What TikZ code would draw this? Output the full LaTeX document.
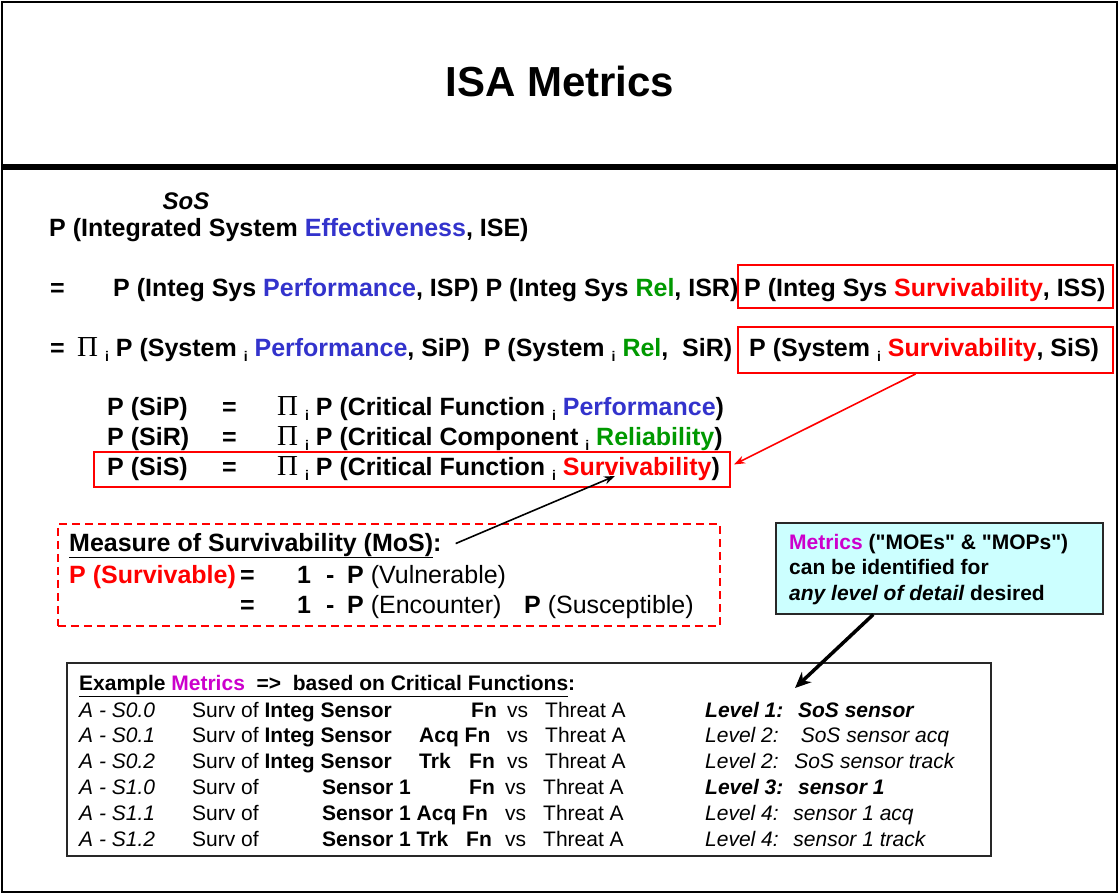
\documentclass[tikz,border=0pt]{standalone}
\usepackage{fontspec}
\setmainfont{Liberation Sans}[Ligatures=TeXOff]
\newfontfamily\pifont{Liberation Serif}
\usetikzlibrary{arrows.meta,calc}
\definecolor{cblue}{RGB}{51,51,204}
\definecolor{cgreen}{RGB}{0,153,0}
\definecolor{cred}{RGB}{255,0,0}
\definecolor{cmag}{RGB}{204,0,204}
\definecolor{ccyan}{RGB}{204,255,255}
\definecolor{cframe}{RGB}{40,40,40}
\newcommand\bodyfont{\fontsize{25}{30}\selectfont\bfseries}
\newcommand\tabfont{\fontsize{21}{25}\selectfont}
\newcommand\subi{\raisebox{-5.5pt}{\fontsize{14}{14}\selectfont i}}
\newcommand\bigpi{{\pifont\mdseries\fontsize{29}{30}\selectfont Π}}
\tikzset{
  txt/.style={anchor=base west, inner sep=0pt, font=\bodyfont},
  tbl/.style={anchor=base west, inner sep=0pt, font=\tabfont},
  tblb/.style={anchor=base west, inner sep=0pt, font=\tabfont\bfseries},
  tbli/.style={anchor=base west, inner sep=0pt, font=\tabfont\itshape},
  tblbi/.style={anchor=base west, inner sep=0pt, font=\tabfont\bfseries\itshape},
  callt/.style={anchor=base west, inner sep=0pt, font=\tabfont\bfseries},
  redbox/.style={draw=cred, line width=2pt, anchor=north west, inner sep=0pt},
  dashbox/.style={draw=cred, line width=1.8pt, dash pattern=on 8pt off 5pt, anchor=north west, inner sep=0pt},
  calloutbox/.style={draw=cframe, fill=ccyan, line width=1.5pt, anchor=north west, inner sep=0pt},
  tablebox/.style={draw=cframe, line width=1.5pt, anchor=north west, inner sep=0pt},
  redarrow/.style={draw=cred, line width=1.6pt, -{Stealth[length=11pt,width=8pt]}},
  blackarrow/.style={draw=black, line width=1.6pt, -{Stealth[length=11pt,width=8pt]}},
  thickarrow/.style={draw=black, line width=3.5pt, -{Stealth[length=16pt,width=14pt]}},
}
\begin{document}
\begin{tikzpicture}[x=1pt,y=-1pt]
\useasboundingbox (0,0) rectangle (1120,894);
% frames
\draw[line width=2.5pt] (2,2) rectangle (1117,166);
\draw[line width=2.5pt] (2,166) rectangle (1117,892);
\draw[line width=6pt] (2,166.5) -- (1117,166.5);
% title
\node[anchor=base, inner sep=0pt, font=\fontsize{42}{48}\selectfont\bfseries] (title) at (560,96) {ISA Metrics};
% line 1
\node[anchor=base, inner sep=0pt, font=\fontsize{24}{28}\selectfont\bfseries\itshape] (sos) at (186,209) {SoS};
\node[txt] (l1) at (49,236) {P (Integrated System \textcolor{cblue}{Effectiveness}, ISE)};
% line 2
\node[txt] (eq2) at (50,296) {=};
\node[txt] (l2) at (113,296) {P (Integ Sys \textcolor{cblue}{Performance}, ISP) P (Integ Sys \textcolor{cgreen}{Rel}, ISR)};
\node[redbox, minimum width=375pt, minimum height=43pt] (issbox) at (737,264) {};
\node[txt] (isstxt) at (744,296) {P (Integ Sys \textcolor{cred}{Survivability}, ISS)};
% line 3
\node[txt] (eq3) at (50,356) {=};
\node[txt] (l3) at (77,356) {\bigpi\ \subi\ P (System \subi\ \textcolor{cblue}{Performance}, SiP)\ \ P (System \subi\ \textcolor{cgreen}{Rel},\ \ SiR)};
\node[redbox, minimum width=375pt, minimum height=46pt] (sisbox) at (737,326) {};
\node[txt] (sistxt) at (749,356) {P (System \subi\ \textcolor{cred}{Survivability}, SiS)};
% block
\node[txt] (sip) at (107,415) {P (SiP)};
\node[txt] (eqa) at (222,415) {=};
\node[txt] (sipr) at (277,415) {\bigpi\ \subi\ P (Critical Function \subi\ \textcolor{cblue}{Performance})};
\node[txt] (sir) at (107,445) {P (SiR)};
\node[txt] (eqb) at (222,445) {=};
\node[txt] (sirr) at (277,445) {\bigpi\ \subi\ P (Critical Component \subi\ \textcolor{cgreen}{Reliability})};
\node[txt] (sis) at (107,475) {P (SiS)};
\node[txt] (eqc) at (222,475) {=};
\node[txt] (sisr) at (277,475) {\bigpi\ \subi\ P (Critical Function \subi\ \textcolor{cred}{Survivability})};
\node[redbox, minimum width=636pt, minimum height=35pt] (blockbox) at (93,451) {};
% MoS
\node[dashbox, minimum width=662pt, minimum height=102pt] (mosbox) at (57,523) {};
\node[txt] (mostitle) at (69,551) {\underline{Measure of Survivability (MoS)}:};
\node[txt, text=cred] (psurv) at (69,583) {P (Survivable)};
\node[txt] (eqm1) at (240,583) {=};
\node[txt] (one1) at (297,583) {1};
\node[txt] (min1) at (326,583) {-};
\node[txt] (pv) at (347,583) {P {\mdseries(Vulnerable)}};
\node[txt] (eqm2) at (240,613) {=};
\node[txt] (one2) at (297,613) {1};
\node[txt] (min2) at (326,613) {-};
\node[txt] (pe) at (347,613) {P {\mdseries(Encounter)}};
\node[txt] (ps) at (524,613) {P {\mdseries(Susceptible)}};
% callout
\node[calloutbox, minimum width=327pt, minimum height=91pt] (callout) at (775,522) {};
\node[callt] (c1) at (789,549) {\textcolor{cmag}{Metrics} ("MOEs" \& "MOPs")};
\node[callt] (c2) at (789,574) {can be identified for};
\node[callt] (c3) at (789,600) {{\itshape any level of detail} desired};
% table
\node[tablebox, minimum width=924pt, minimum height=193pt] (tablebox) at (66,662) {};
\node[tblb] (hdr) at (79,690) {\underline{Example \textcolor{cmag}{Metrics}\ \ =>\ \ based on Critical Functions}:};
% row 1
\node[tbli] (a1) at (79,717) {A - S0.0};
\node[tbl] (s1) at (192,717) {Surv of \textbf{Integ Sensor}};
\node[tblb] (f1) at (471,717) {Fn};
\node[tbl] (v1) at (507,717) {vs};
\node[tbl] (t1) at (545,717) {Threat A};
\node[tblbi] (lv1) at (705,717) {Level 1:\hspace{0.7em}SoS sensor};
% row 2
\node[tbli] (a2) at (79,742) {A - S0.1};
\node[tbl] (s2) at (192,742) {Surv of \textbf{Integ Sensor}};
\node[tblb] (f2) at (419,742) {Acq Fn};
\node[tbl] (v2) at (507,742) {vs};
\node[tbl] (t2) at (545,742) {Threat A};
\node[tbli] (lv2) at (705,742) {Level 2:\hspace{1.05em}SoS sensor acq};
% row 3
\node[tbli] (a3) at (79,768) {A - S0.2};
\node[tbl] (s3) at (192,768) {Surv of \textbf{Integ Sensor}};
\node[tblb] (k3) at (419,768) {Trk};
\node[tblb] (f3) at (469,768) {Fn};
\node[tbl] (v3) at (507,768) {vs};
\node[tbl] (t3) at (545,768) {Threat A};
\node[tbli] (lv3) at (705,768) {Level 2:\hspace{0.75em}SoS sensor track};
% row 4
\node[tbli] (a4) at (79,794) {A - S1.0};
\node[tbl] (s4) at (192,794) {Surv of};
\node[tblb] (n4) at (322,794) {Sensor 1};
\node[tblb] (f4) at (469,794) {Fn};
\node[tbl] (v4) at (505,794) {vs};
\node[tbl] (t4) at (543,794) {Threat A};
\node[tblbi] (lv4) at (705,794) {Level 3:\hspace{0.7em}sensor 1};
% row 5
\node[tbli] (a5) at (79,820) {A - S1.1};
\node[tbl] (s5) at (192,820) {Surv of};
\node[tblb] (n5) at (322,820) {Sensor 1 Acq Fn};
\node[tbl] (v5) at (505,820) {vs};
\node[tbl] (t5) at (543,820) {Threat A};
\node[tbli] (lv5) at (705,820) {Level 4:\hspace{0.7em}sensor 1 acq};
% row 6
\node[tbli] (a6) at (79,846) {A - S1.2};
\node[tbl] (s6) at (192,846) {Surv of};
\node[tblb] (n6) at (322,846) {Sensor 1 Trk};
\node[tblb] (f6) at (466,846) {Fn};
\node[tbl] (v6) at (505,846) {vs};
\node[tbl] (t6) at (543,846) {Threat A};
\node[tbli] (lv6) at (705,846) {Level 4:\hspace{0.7em}sensor 1 track};
% connectors
\coordinate (survtip) at (615,476);
\coordinate (lvltip) at (795,688);
\draw[redarrow] ($(sisbox.south)+(-10,0)$) -- ($(blockbox.east)+(3,-5)$);
\draw[blackarrow] ($(mostitle.east)+(14,-2)$) -- (survtip);
\draw[thickarrow] ($(callout.south)+(-66,0)$) -- (lvltip);
\end{tikzpicture}
\end{document}
